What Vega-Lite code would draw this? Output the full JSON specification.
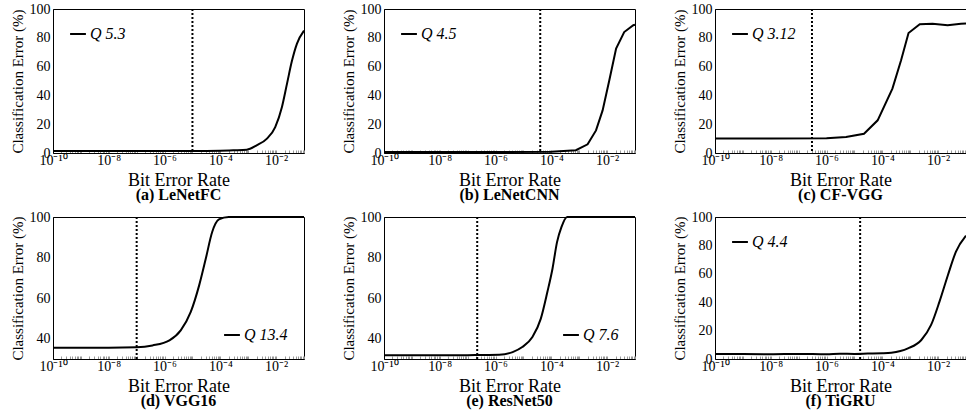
{
  "$schema": "https://vega.github.io/schema/vega-lite/v6.json",
  "padding": {"left": 9, "top": 1, "right": 0, "bottom": 0},
  "config": {
    "font": "Liberation Serif",
    "view": {"stroke": "black", "strokeWidth": 1},
    "axis": {"labelFont": "Liberation Serif", "titleFont": "Liberation Serif", "labelColor": "black", "titleColor": "black", "domainColor": "black", "grid": false, "labelFontSize": 14, "titleFontWeight": "normal"},
    "axisX": {"titleFontSize": 18, "labelPadding": 3, "titlePadding": 4, "labelFlush": false, "labelOverlap": false, "tickSize": -3, "tickColor": "#999999", "tickCount": 100,
      "labelExpr": "datum.value == 1e-10 ? '10⁻¹⁰' : datum.value == 1e-8 ? '10⁻⁸' : datum.value == 1e-6 ? '10⁻⁶' : datum.value == 1e-4 ? '10⁻⁴' : datum.value == 1e-2 ? '10⁻²' : ''"},
    "axisY": {"titleFontSize": 15, "ticks": false, "labelPadding": 3, "titlePadding": 4},
    "legend": {"symbolType": "stroke", "symbolStrokeWidth": 2, "symbolSize": 250, "labelFont": "Liberation Serif", "labelFontSize": 16, "labelFontStyle": "italic", "labelColor": "black", "offset": 16, "labelOffset": 3, "padding": 0},
    "title": {"font": "Liberation Serif", "fontSize": 16, "fontWeight": "bold", "orient": "bottom", "color": "black", "offset": -2},
    "line": {"color": "black", "strokeWidth": 2}
  },
  "spacing": 5,
  "resolve": {"scale": {"color": "independent"}, "legend": {"color": "independent"}},
  "vconcat": [
    {
      "spacing": 31,
      "resolve": {"scale": {"color": "independent"}, "legend": {"color": "independent"}},
      "hconcat": [
        {
          "width": 251, "height": 144,
          "title": {"text": "(a) LeNetFC"},
          "layer": [
            {
              "data": {"values": [
                {"ber": 1e-10, "err": 1.4, "q": "Q 5.3"}, {"ber": 1e-8, "err": 1.4, "q": "Q 5.3"}, {"ber": 1e-6, "err": 1.4, "q": "Q 5.3"}, {"ber": 1e-5, "err": 1.4, "q": "Q 5.3"},
                {"ber": 1e-4, "err": 1.6, "q": "Q 5.3"}, {"ber": 3e-4, "err": 1.9, "q": "Q 5.3"}, {"ber": 8.9e-4, "err": 2.3, "q": "Q 5.3"}, {"ber": 2.0e-3, "err": 5.3, "q": "Q 5.3"},
                {"ber": 4.7e-3, "err": 10, "q": "Q 5.3"}, {"ber": 9.3e-3, "err": 18, "q": "Q 5.3"}, {"ber": 0.0162, "err": 32, "q": "Q 5.3"}, {"ber": 0.0245, "err": 48, "q": "Q 5.3"},
                {"ber": 0.037, "err": 64, "q": "Q 5.3"}, {"ber": 0.056, "err": 76, "q": "Q 5.3"}, {"ber": 0.1, "err": 85, "q": "Q 5.3"}
              ]},
              "mark": {"type": "line", "interpolate": "monotone"},
              "encoding": {
                "x": {"field": "ber", "type": "quantitative", "scale": {"type": "log", "domain": [1e-10, 0.1]}, "title": "Bit Error Rate"},
                "y": {"field": "err", "type": "quantitative", "scale": {"domain": [0, 100]}, "axis": {"values": [0, 20, 40, 60, 80, 100]}, "title": "Classification Error (%)"},
                "color": {"field": "q", "type": "nominal", "scale": {"range": ["black"]}, "legend": {"orient": "top-left", "title": null}}
              }
            },
            {
              "data": {"values": [{"ber": 1e-5}]},
              "mark": {"type": "rule", "strokeDash": [2, 2], "strokeWidth": 2, "color": "black"},
              "encoding": {"x": {"field": "ber", "type": "quantitative"}}
            }
          ]
        },
        {
          "width": 251, "height": 144,
          "title": {"text": "(b) LeNetCNN"},
          "layer": [
            {
              "data": {"values": [
                {"ber": 1e-10, "err": 0.7, "q": "Q 4.5"}, {"ber": 1e-6, "err": 0.7, "q": "Q 4.5"}, {"ber": 1e-4, "err": 0.8, "q": "Q 4.5"}, {"ber": 7.6e-4, "err": 1.9, "q": "Q 4.5"},
                {"ber": 2.0e-3, "err": 6, "q": "Q 4.5"}, {"ber": 4.0e-3, "err": 15.7, "q": "Q 4.5"}, {"ber": 6.9e-3, "err": 29.6, "q": "Q 4.5"}, {"ber": 0.012, "err": 50.5, "q": "Q 4.5"},
                {"ber": 0.021, "err": 72.5, "q": "Q 4.5"}, {"ber": 0.041, "err": 84, "q": "Q 4.5"}, {"ber": 0.087, "err": 88.7, "q": "Q 4.5"}, {"ber": 0.1, "err": 89, "q": "Q 4.5"}
              ]},
              "mark": {"type": "line"},
              "encoding": {
                "x": {"field": "ber", "type": "quantitative", "scale": {"type": "log", "domain": [1e-10, 0.1]}, "title": "Bit Error Rate"},
                "y": {"field": "err", "type": "quantitative", "scale": {"domain": [0, 100]}, "axis": {"values": [0, 20, 40, 60, 80, 100]}, "title": "Classification Error (%)"},
                "color": {"field": "q", "type": "nominal", "scale": {"range": ["black"]}, "legend": {"orient": "top-left", "title": null}}
              }
            },
            {
              "data": {"values": [{"ber": 4e-5}]},
              "mark": {"type": "rule", "strokeDash": [2, 2], "strokeWidth": 2, "color": "black"},
              "encoding": {"x": {"field": "ber", "type": "quantitative"}}
            }
          ]
        },
        {
          "width": 251, "height": 144,
          "title": {"text": "(c) CF-VGG"},
          "layer": [
            {
              "data": {"values": [
                {"ber": 1e-10, "err": 10, "q": "Q 3.12"}, {"ber": 1e-8, "err": 10, "q": "Q 3.12"}, {"ber": 1e-6, "err": 10.2, "q": "Q 3.12"}, {"ber": 5e-6, "err": 11.1, "q": "Q 3.12"},
                {"ber": 2.2e-5, "err": 13.4, "q": "Q 3.12"}, {"ber": 6.8e-5, "err": 22.7, "q": "Q 3.12"}, {"ber": 2.3e-4, "err": 44.7, "q": "Q 3.12"}, {"ber": 4.7e-4, "err": 64.4, "q": "Q 3.12"},
                {"ber": 8.7e-4, "err": 83.3, "q": "Q 3.12"}, {"ber": 2.2e-3, "err": 89.4, "q": "Q 3.12"}, {"ber": 6.3e-3, "err": 89.8, "q": "Q 3.12"}, {"ber": 0.022, "err": 88.7, "q": "Q 3.12"},
                {"ber": 0.066, "err": 89.8, "q": "Q 3.12"}, {"ber": 0.1, "err": 90, "q": "Q 3.12"}
              ]},
              "mark": {"type": "line"},
              "encoding": {
                "x": {"field": "ber", "type": "quantitative", "scale": {"type": "log", "domain": [1e-10, 0.1]}, "title": "Bit Error Rate"},
                "y": {"field": "err", "type": "quantitative", "scale": {"domain": [0, 100]}, "axis": {"values": [0, 20, 40, 60, 80, 100]}, "title": "Classification Error (%)"},
                "color": {"field": "q", "type": "nominal", "scale": {"range": ["black"]}, "legend": {"orient": "top-left", "title": null}}
              }
            },
            {
              "data": {"values": [{"ber": 3e-7}]},
              "mark": {"type": "rule", "strokeDash": [2, 2], "strokeWidth": 2, "color": "black"},
              "encoding": {"x": {"field": "ber", "type": "quantitative"}}
            }
          ]
        }
      ]
    },
    {
      "spacing": 31,
      "resolve": {"scale": {"color": "independent"}, "legend": {"color": "independent"}},
      "hconcat": [
        {
          "width": 251, "height": 142,
          "title": {"text": "(d) VGG16"},
          "layer": [
            {
              "data": {"values": [
                {"ber": 1e-10, "err": 35.6, "q": "Q 13.4"}, {"ber": 1e-8, "err": 35.6, "q": "Q 13.4"}, {"ber": 1e-7, "err": 35.8, "q": "Q 13.4"}, {"ber": 3.7e-7, "err": 36.7, "q": "Q 13.4"},
                {"ber": 1.5e-6, "err": 39.2, "q": "Q 13.4"}, {"ber": 3.8e-6, "err": 44.1, "q": "Q 13.4"}, {"ber": 8.7e-6, "err": 53.2, "q": "Q 13.4"}, {"ber": 1.74e-5, "err": 66.3, "q": "Q 13.4"},
                {"ber": 3.0e-5, "err": 79.4, "q": "Q 13.4"}, {"ber": 5.1e-5, "err": 92.6, "q": "Q 13.4"}, {"ber": 8.9e-5, "err": 98.8, "q": "Q 13.4"}, {"ber": 2e-4, "err": 100, "q": "Q 13.4"},
                {"ber": 0.1, "err": 100, "q": "Q 13.4"}
              ]},
              "mark": {"type": "line", "interpolate": "monotone"},
              "encoding": {
                "x": {"field": "ber", "type": "quantitative", "scale": {"type": "log", "domain": [1e-10, 0.1]}, "title": "Bit Error Rate"},
                "y": {"field": "err", "type": "quantitative", "scale": {"domain": [30, 100]}, "axis": {"values": [40, 60, 80, 100]}, "title": "Classification Error (%)"},
                "color": {"field": "q", "type": "nominal", "scale": {"range": ["black"]}, "legend": {"orient": "bottom-right", "title": null}}
              }
            },
            {
              "data": {"values": [{"ber": 1e-7}]},
              "mark": {"type": "rule", "strokeDash": [2, 2], "strokeWidth": 2, "color": "black"},
              "encoding": {"x": {"field": "ber", "type": "quantitative"}}
            }
          ]
        },
        {
          "width": 251, "height": 142,
          "title": {"text": "(e) ResNet50"},
          "layer": [
            {
              "data": {"values": [
                {"ber": 1e-10, "err": 31.8, "q": "Q 7.6"}, {"ber": 1e-8, "err": 31.8, "q": "Q 7.6"}, {"ber": 1e-7, "err": 31.9, "q": "Q 7.6"}, {"ber": 1.35e-6, "err": 32.1, "q": "Q 7.6"},
                {"ber": 4.1e-6, "err": 33.4, "q": "Q 7.6"}, {"ber": 9.1e-6, "err": 35.9, "q": "Q 7.6"}, {"ber": 2.1e-5, "err": 40.8, "q": "Q 7.6"}, {"ber": 4.2e-5, "err": 49.9, "q": "Q 7.6"},
                {"ber": 7.2e-5, "err": 63, "q": "Q 7.6"}, {"ber": 1.1e-4, "err": 74.5, "q": "Q 7.6"}, {"ber": 1.6e-4, "err": 87.6, "q": "Q 7.6"}, {"ber": 2.3e-4, "err": 95, "q": "Q 7.6"},
                {"ber": 3.7e-4, "err": 100, "q": "Q 7.6"}, {"ber": 0.1, "err": 100, "q": "Q 7.6"}
              ]},
              "mark": {"type": "line", "interpolate": "monotone"},
              "encoding": {
                "x": {"field": "ber", "type": "quantitative", "scale": {"type": "log", "domain": [1e-10, 0.1]}, "title": "Bit Error Rate"},
                "y": {"field": "err", "type": "quantitative", "scale": {"domain": [30, 100]}, "axis": {"values": [40, 60, 80, 100]}, "title": "Classification Error (%)"},
                "color": {"field": "q", "type": "nominal", "scale": {"range": ["black"]}, "legend": {"orient": "bottom-right", "title": null}}
              }
            },
            {
              "data": {"values": [{"ber": 2.2e-7}]},
              "mark": {"type": "rule", "strokeDash": [2, 2], "strokeWidth": 2, "color": "black"},
              "encoding": {"x": {"field": "ber", "type": "quantitative"}}
            }
          ]
        },
        {
          "width": 251, "height": 142,
          "title": {"text": "(f) TiGRU"},
          "layer": [
            {
              "data": {"values": [
                {"ber": 1e-10, "err": 3.6, "q": "Q 4.4"}, {"ber": 1e-9, "err": 3.5, "q": "Q 4.4"}, {"ber": 1e-8, "err": 3.4, "q": "Q 4.4"}, {"ber": 1e-7, "err": 3.6, "q": "Q 4.4"},
                {"ber": 1e-6, "err": 3.3, "q": "Q 4.4"}, {"ber": 3e-6, "err": 3.7, "q": "Q 4.4"}, {"ber": 1e-5, "err": 3.6, "q": "Q 4.4"}, {"ber": 3e-5, "err": 3.8, "q": "Q 4.4"},
                {"ber": 1e-4, "err": 4.0, "q": "Q 4.4"}, {"ber": 2.1e-4, "err": 4.4, "q": "Q 4.4"}, {"ber": 8.3e-4, "err": 7.5, "q": "Q 4.4"}, {"ber": 2.5e-3, "err": 13.4, "q": "Q 4.4"},
                {"ber": 5.6e-3, "err": 24, "q": "Q 4.4"}, {"ber": 0.0112, "err": 40.4, "q": "Q 4.4"}, {"ber": 0.0224, "err": 59, "q": "Q 4.4"}, {"ber": 0.0437, "err": 75.6, "q": "Q 4.4"},
                {"ber": 0.1, "err": 86.8, "q": "Q 4.4"}
              ]},
              "mark": {"type": "line", "interpolate": "monotone"},
              "encoding": {
                "x": {"field": "ber", "type": "quantitative", "scale": {"type": "log", "domain": [1e-10, 0.1]}, "title": "Bit Error Rate"},
                "y": {"field": "err", "type": "quantitative", "scale": {"domain": [0, 100]}, "axis": {"values": [0, 20, 40, 60, 80, 100]}, "title": "Classification Error (%)"},
                "color": {"field": "q", "type": "nominal", "scale": {"range": ["black"]}, "legend": {"orient": "top-left", "title": null}}
              }
            },
            {
              "data": {"values": [{"ber": 1.6e-5}]},
              "mark": {"type": "rule", "strokeDash": [2, 2], "strokeWidth": 2, "color": "black"},
              "encoding": {"x": {"field": "ber", "type": "quantitative"}}
            }
          ]
        }
      ]
    }
  ]
}
